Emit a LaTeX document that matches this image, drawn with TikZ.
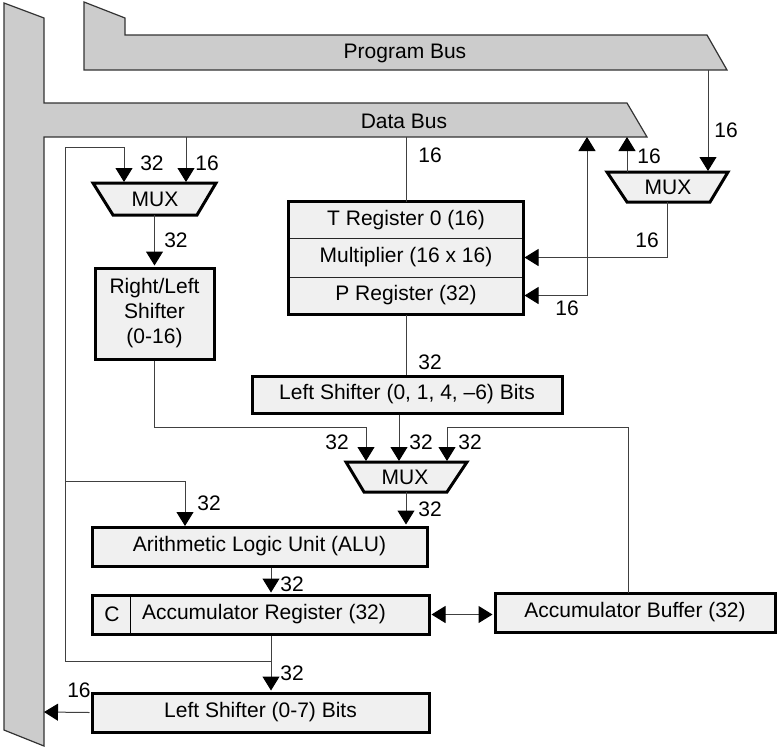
\documentclass[tikz,border=0pt]{standalone}
\usepackage{fontspec}
\setmainfont{Liberation Sans}
\usetikzlibrary{arrows.meta}
\definecolor{busgray}{RGB}{204,204,204}
\definecolor{boxfill}{RGB}{240,240,240}
\begin{document}
\begin{tikzpicture}[x=1pt,y=-1pt,
  every node/.style={font=\fontsize{21}{25}\selectfont, inner sep=0pt},
  bus/.style={fill=busgray, draw=black!80, line width=1.2pt},
  blk/.style={draw=black, fill=boxfill, line width=3pt, inner sep=0pt},
  cell/.style={draw=black!85, fill=boxfill, line width=1pt, inner sep=0pt},
  wire/.style={draw=black!75, line width=1pt},
  arr/.style={wire, -{Triangle[length=14pt,width=17pt,black]}},
  darr/.style={wire, {Triangle[length=14pt,width=17pt,black]}-{Triangle[length=14pt,width=17pt,black]}}
]
\useasboundingbox (0,0) rectangle (778,747);

% buses
\draw[bus] (84,2) -- (125,18) -- (125,35) -- (707,35) -- (727,70) -- (84,70) -- cycle;
\node (pbus) at (405,53) {Program Bus};
\draw[bus] (4,3) -- (44,18) -- (44,103) -- (627,103) -- (647,137) -- (44,137) -- (44,746) -- (4,730) -- cycle;
\node (dbus) at (404,121) {Data Bus};

% multiplexers
\draw[blk] (93,183) -- (216,183) -- (197,215) -- (113,215) -- cycle;
\node (muxA) at (155,199) {MUX};
\draw[blk] (607,172) -- (728,172) -- (710,202) -- (627,202) -- cycle;
\node (muxB) at (668,187) {MUX};
\draw[blk] (346,462) -- (467,462) -- (447,492) -- (364,492) -- cycle;
\node (muxC) at (405,477) {MUX};

\coordinate (muxA-in1) at (124,182);
\coordinate (muxA-in2) at (186,182);
\coordinate (muxA-out) at (154.5,215);
\coordinate (muxB-in) at (708,171);
\coordinate (muxB-up) at (627,172);
\coordinate (muxB-out) at (667,202);
\coordinate (muxC-in1) at (366,461);
\coordinate (muxC-in2) at (399,461);
\coordinate (muxC-in3) at (447,461);
\coordinate (muxC-out) at (406,492);

% blocks
\node[blk, minimum width=119pt, minimum height=91pt, align=center] (rls) at (154.5,313.5) {Right/Left\\Shifter\\(0-16)};

\node[cell, minimum width=234pt, minimum height=36pt] (treg) at (406,220) {T Register 0 (16)};
\node[cell, minimum width=234pt, minimum height=39pt] (mreg) at (406,257.5) {Multiplier (16 x 16)};
\node[cell, minimum width=234pt, minimum height=37pt] (preg) at (406,295.5) {P Register (32)};
\draw[line width=3pt] (treg.north west) rectangle (preg.south east);

\node[blk, minimum width=310pt, minimum height=37pt] (lsh) at (407,394.5) {Left Shifter (0, 1, 4, –6) Bits};
\node[blk, minimum width=335pt, minimum height=39pt] (alu) at (259.5,546.5) {Arithmetic Logic Unit (ALU)};
\node[blk, minimum width=337pt, minimum height=39pt] (acc) at (260.5,614.5) {};
\draw[line width=1pt] (130,595) -- (130,634);
\node (accC) at (112,614.5) {C};
\node (accT) at (264,614.5) {Accumulator Register (32)};
\node[blk, minimum width=280pt, minimum height=39pt] (abuf) at (635,612.5) {Accumulator Buffer (32)};
\node[blk, minimum width=337pt, minimum height=39pt] (lsh2) at (260.5,712.5) {Left Shifter (0-7) Bits};

\coordinate (tap) at (271,661);
\coordinate (aluin) at (185,526);
\coordinate (abuf-top) at (628,593);
\coordinate (dbl) at (44,712);

% connectors
\draw[arr] (708,70) -- (muxB-in);
\draw[arr] (muxB-up) -- (627,137);
\draw[arr] (muxB-out) |- ([xshift=1pt]mreg.east);
\draw[darr] ([xshift=1pt]preg.east) -| (587,137);
\draw[wire] (406,137) -- (treg.north);
\draw[wire] (preg.south) -- (preg.south |- lsh.north);
\draw[arr] (lsh.south -| muxC-in2) -- (muxC-in2);
\draw[arr] (rls.south) -- ++(0,67) -| (muxC-in1);
\draw[arr] (abuf-top) -- (628,427) -| (muxC-in3);
\draw[arr] (muxC-out) -- ([yshift=1pt]muxC-out |- alu.north);
\draw[arr] (tap) -| (65,147) -| (muxA-in1);
\draw[arr] (65,481) -| (aluin);
\draw[arr] (186,137) -- (muxA-in2);
\draw[arr] (muxA-out) -- ([yshift=1pt]muxA-out |- rls.north);
\draw[arr] (alu.south -| tap) -- ([yshift=1pt]acc.north -| tap);
\draw[darr] ([xshift=1pt]acc.east) -- ([xshift=-1pt]acc.east -| abuf.west);
\draw[arr] (acc.south -| tap) -- ([yshift=1pt]lsh2.north -| tap);
\draw[arr] ([xshift=-1pt]lsh2.west) -- (dbl);

% width labels
\node (l1) at (726,130) {16};
\node (l2) at (649,156) {16};
\node (l3) at (647,240) {16};
\node (l4) at (567,308) {16};
\node (l5) at (430,155) {16};
\node (l6) at (430,362) {32};
\node (l7) at (337,442) {32};
\node (l8) at (421,442) {32};
\node (l9) at (470,442) {32};
\node (l10) at (430,509) {32};
\node (l11) at (209,503) {32};
\node (l12) at (152,163) {32};
\node (l13) at (207,163) {16};
\node (l14) at (176,240) {32};
\node (l15) at (292,584) {32};
\node (l16) at (292,673) {32};
\node (l17) at (79,690) {16};
\end{tikzpicture}
\end{document}
